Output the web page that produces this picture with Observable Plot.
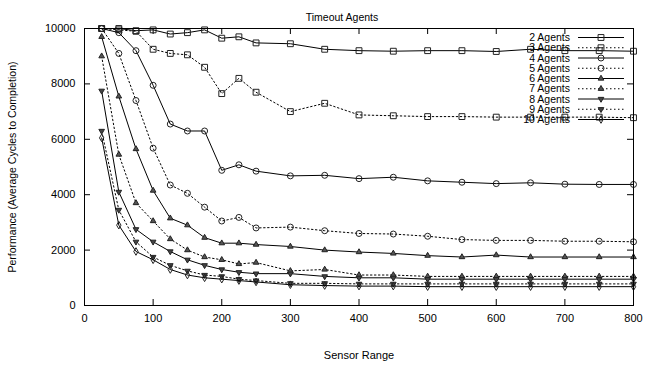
<!DOCTYPE html>
<html>
<head>
<meta charset="utf-8">
<script src="https://cdn.jsdelivr.net/npm/d3@7"></script>
<script src="https://cdn.jsdelivr.net/npm/@observablehq/plot@0.6"></script>
<style>
  html, body { margin: 0; padding: 0; background: #fff; }
  svg { font-family: "Liberation Sans", Arial, Helvetica, sans-serif; }
</style>
</head>
<body>
<div id="chart"></div>
<script>
const title = "Timeout Agents";
const xLabel = "Sensor Range";
const yLabel = "Performance (Average Cycles to Completion)";
const xTicks = [0, 100, 200, 300, 400, 500, 600, 700, 800];
const yTicks = [0, 2000, 4000, 6000, 8000, 10000];

const sensorRange = [25, 50, 75, 100, 125, 150, 175, 200, 225, 250, 300, 350, 400, 450, 500, 550, 600, 650, 700, 750, 800];

const seriesNames = ["2 Agents", "3 Agents", "4 Agents", "5 Agents", "6 Agents", "7 Agents", "8 Agents", "9 Agents", "10 Agents"];

const agents2  = [10000, 10000, 9920, 9950, 9800, 9850, 9950, 9650, 9700, 9480, 9450, 9250, 9200, 9180, 9200, 9200, 9170, 9250, 9200, 9200, 9180];
const agents3  = [10000, 9950, 9900, 9250, 9100, 9050, 8600, 7650, 8200, 7700, 7000, 7300, 6880, 6850, 6820, 6820, 6800, 6800, 6800, 6800, 6780];
const agents4  = [10000, 9850, 9200, 7950, 6550, 6300, 6300, 4880, 5080, 4850, 4680, 4700, 4580, 4630, 4500, 4450, 4400, 4430, 4380, 4370, 4370];
const agents5  = [10000, 9100, 7400, 5680, 4350, 4050, 3550, 3050, 3180, 2800, 2830, 2700, 2600, 2580, 2500, 2380, 2350, 2350, 2320, 2320, 2300];
const agents6  = [9700, 7550, 5650, 4150, 3150, 2900, 2450, 2250, 2250, 2200, 2130, 2000, 1930, 1880, 1800, 1750, 1820, 1750, 1750, 1750, 1750];
const agents7  = [9000, 5450, 3700, 3050, 2400, 2000, 1750, 1650, 1500, 1550, 1250, 1300, 1100, 1100, 1050, 1050, 1050, 1050, 1050, 1050, 1050];
const agents8  = [7750, 4100, 2750, 2300, 1950, 1650, 1450, 1300, 1200, 1150, 1150, 1050, 1000, 1000, 950, 950, 950, 950, 950, 950, 950];
const agents9  = [6300, 3450, 2300, 1750, 1450, 1250, 1100, 1050, 950, 900, 800, 800, 780, 780, 780, 780, 780, 780, 780, 780, 780];
const agents10 = [6050, 2900, 1950, 1650, 1300, 1100, 1000, 950, 900, 850, 750, 720, 700, 700, 680, 680, 680, 680, 680, 680, 680];

const seriesValues = [agents2, agents3, agents4, agents5, agents6, agents7, agents8, agents9, agents10];

// style per series
const dashed = [false, true, false, true, false, true, false, true, false];
const triDown = {
  draw(context, size) {
    const s = Math.sqrt(size / (Math.sqrt(3) / 4));
    const h = s * Math.sqrt(3) / 2;
    context.moveTo(0, 2 * h / 3);
    context.lineTo(s / 2, -h / 3);
    context.lineTo(-s / 2, -h / 3);
    context.closePath();
  }
};
const symbols = ["square", "square", "circle", "circle", "triangle", "triangle", triDown, triDown, "diamond"];
const symbolR = [3.3, 3.3, 3.0, 3.0, 2.1, 2.1, 2.1, 2.1, 2.3];
const symbolFill = ["none", "none", "none", "none", "#555", "#555", "#444", "#444", "none"];

const data = seriesNames.flatMap((name, i) =>
  sensorRange.map((x, j) => ({series: name, x, y: seriesValues[i][j]}))
);

const W = 663, H = 365;
const mL = 84, mR = 30, mT = 28, mB = 60;
const plotW = W - mL - mR, plotH = H - mT - mB;
const tickLen = 6;

const marks = [];
seriesNames.forEach((name, i) => {
  const d = data.filter(r => r.series === name);
  marks.push(Plot.line(d, {x: "x", y: "y", stroke: "black", strokeWidth: 1,
    strokeDasharray: dashed[i] ? "1.5,2.5" : null}));
  marks.push(Plot.dot(d, {x: "x", y: "y", symbol: symbols[i], r: symbolR[i],
    stroke: "#222", strokeWidth: 1, fill: symbolFill[i]}));
});

const chart = Plot.plot({
  width: W, height: H,
  marginLeft: mL, marginRight: mR, marginTop: mT, marginBottom: mB,
  style: {fontFamily: "Liberation Sans, Arial, sans-serif", fontSize: "11px", color: "black", background: "white"},
  x: {domain: [0, 800], ticks: xTicks},
  y: {domain: [0, 10000], ticks: yTicks},
  marks: [
    Plot.axisX(xTicks, {tickSize: 0, tickPadding: 9, label: null, fontSize: 11}),
    Plot.axisY(yTicks, {tickSize: 0, tickPadding: 9, label: null, fontSize: 11, tickFormat: d => String(d)}),
    Plot.tickX(xTicks, {x: d => d, insetTop: plotH - tickLen, stroke: "black"}),
    Plot.tickX(xTicks, {x: d => d, insetBottom: plotH - tickLen, stroke: "black"}),
    Plot.tickY(yTicks, {y: d => d, insetRight: plotW - tickLen, stroke: "black"}),
    Plot.tickY(yTicks, {y: d => d, insetLeft: plotW - tickLen, stroke: "black"}),
    ...marks,
    Plot.frame({stroke: "black", strokeWidth: 1}),
    Plot.text([title], {frameAnchor: "top", dx: -17, dy: -15, fontSize: 10.5}),
    Plot.text([xLabel], {frameAnchor: "bottom", dy: 53, fontSize: 11}),
    Plot.text([yLabel], {frameAnchor: "left", dx: -72, rotate: -90, textAnchor: "middle", fontSize: 10.5})
  ]
});

// legend (top right, inside plot)
const svg = d3.select(chart);
const lg = svg.append("g").attr("font-size", 10.5).attr("font-family", "Liberation Sans, Arial, sans-serif");
const textRight = 570, lineX1 = 578, lineX2 = 624, markX = 601, row0 = 37.5, rowStep = 10.25;
seriesNames.forEach((name, i) => {
  const y = row0 + i * rowStep;
  lg.append("text").attr("x", textRight).attr("y", y).attr("dy", "0.35em")
    .attr("text-anchor", "end").text(name);
  lg.append("line").attr("x1", lineX1).attr("x2", lineX2).attr("y1", y).attr("y2", y)
    .attr("stroke", "black").attr("stroke-width", 1)
    .attr("stroke-dasharray", dashed[i] ? "1.5,2.5" : null);
  const sym = typeof symbols[i] === "string"
    ? {square: d3.symbolSquare, circle: d3.symbolCircle, triangle: d3.symbolTriangle, diamond: d3.symbolDiamond}[symbols[i]]
    : symbols[i];
  lg.append("path").attr("transform", `translate(${markX},${y})`)
    .attr("d", d3.symbol(sym, Math.PI * symbolR[i] * symbolR[i])())
    .attr("stroke", "#222").attr("fill", symbolFill[i]);
});

document.getElementById("chart").appendChild(chart);
</script>
</body>
</html>
